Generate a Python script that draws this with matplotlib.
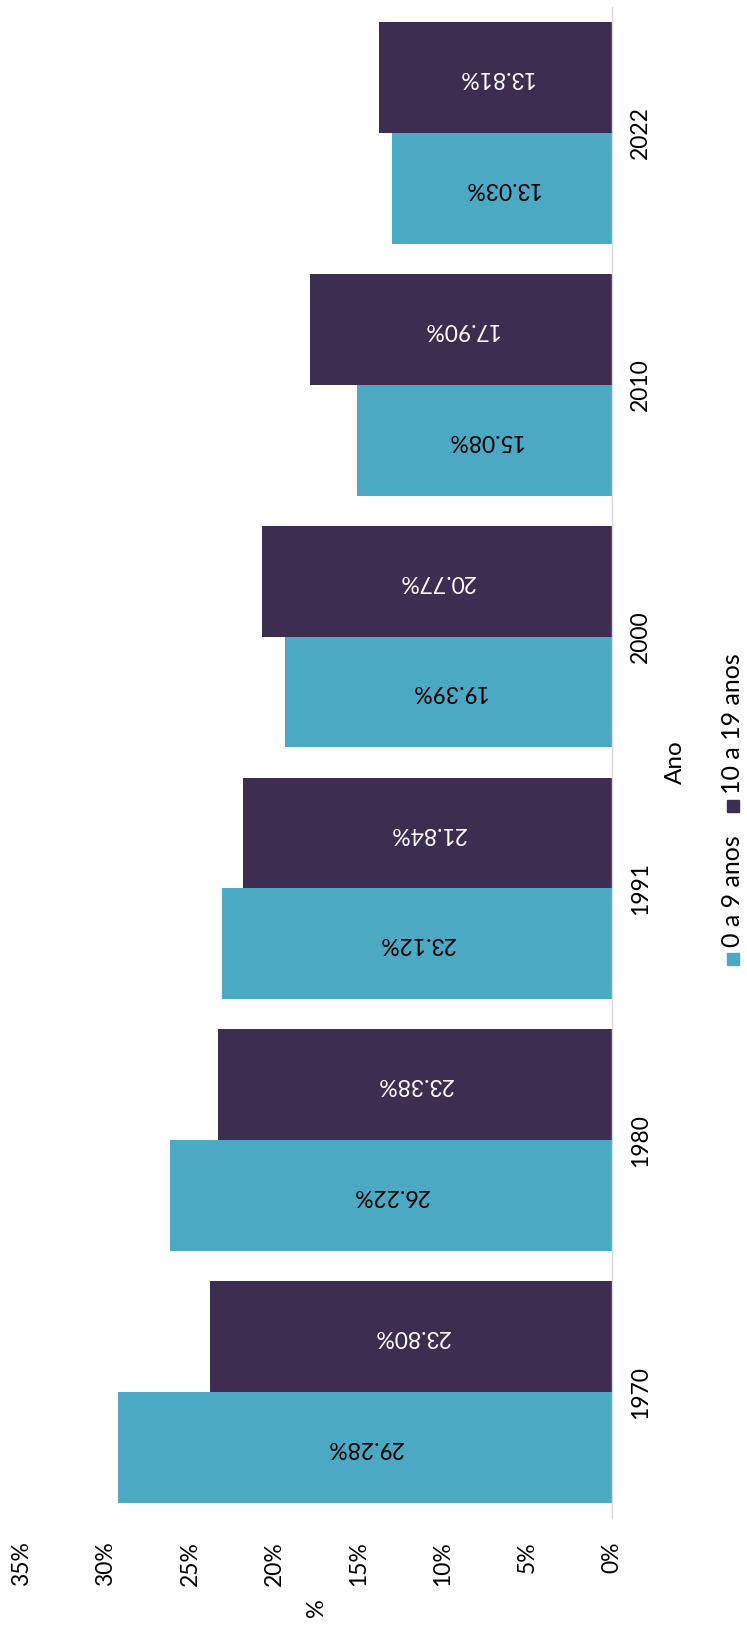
import numpy as np
import matplotlib
matplotlib.use("Agg")
import matplotlib.pyplot as plt
from matplotlib.patches import Rectangle

plt.rcParams['font.family'] = ['Lato', 'DejaVu Sans']

anos = ["1970", "1980", "1991", "2000", "2010", "2022"]
series_names = ["0 a 9 anos", "10 a 19 anos"]
zero_a_nove = [29.28, 26.22, 23.12, 19.39, 15.08, 13.03]
dez_a_dezenove = [23.80, 23.38, 21.84, 20.77, 17.90, 13.81]
pct_ticks = [0, 5, 10, 15, 20, 25, 30, 35]

CYAN = "#4BA9C4"
PURPLE = "#3D2D50"

W, H = 747, 1630


def px(x, y):
    # pixel (from top-left) -> figure fraction
    return x / W, 1 - y / H


def main():
    fig = plt.figure(figsize=(W / 100, H / 100), dpi=100)
    left, top = px(21.6, 7)
    right, bottom = px(611.7, 1518)
    ax = fig.add_axes([left, bottom, right - left, top - bottom])

    y = np.arange(len(anos))
    w = 0.44
    b1 = ax.barh(y - w / 2, zero_a_nove, height=w, color=CYAN)
    b2 = ax.barh(y + w / 2, dez_a_dezenove, height=w, color=PURPLE)

    ax.bar_label(b1, fmt='{:.2f}%', label_type='center', rotation=180,
                 color='black', fontsize=16.5)
    ax.bar_label(b2, fmt='{:.2f}%', label_type='center', rotation=180,
                 color='white', fontsize=16.5)

    ax.set_xlim(35, 0)
    ax.set_ylim(-0.5, len(anos) - 0.5)

    for s in ['left', 'top', 'bottom']:
        ax.spines[s].set_visible(False)
    ax.spines['right'].set_color('#d9d9d9')
    ax.spines['right'].set_linewidth(1)

    ax.set_xticks(pct_ticks)
    ax.set_xticklabels([f"{v}%" for v in pct_ticks], rotation=90, fontsize=16.5)
    ax.tick_params(axis='x', length=0, pad=17)

    ax.set_yticks(y)
    ax.set_yticklabels(anos, rotation=90, fontsize=16.5)
    ax.tick_params(axis='y', length=0, pad=13, labelleft=False, labelright=True)
    for lab in ax.get_yticklabels():
        lab.set_va('center')

    ax.set_xlabel('%', rotation=90, fontsize=17)
    ax.xaxis.set_label_coords(0.5, (1518 - 1608) / 1511)
    ax.xaxis.label.set_va('center')

    ax.yaxis.set_label_position('right')
    ax.set_ylabel('Ano', rotation=90, fontsize=17.5)
    ax.yaxis.set_label_coords((675 - 21.6) / 590.1, 0.5)
    ax.yaxis.label.set_va('center')
    ax.yaxis.label.set_ha('center')

    # legend, drawn rotated like the rest of the chart
    entries = [(series_names[0], CYAN, 965), (series_names[1], PURPLE, 812)]
    for name, color, y0 in entries:
        x0, yb = px(727, y0)
        fig.patches.append(Rectangle((x0, yb), 12 / W, 12 / H, color=color,
                                     transform=fig.transFigure, figure=fig))
        tx, ty = px(733, y0 - 18)
        fig.text(tx, ty, name, rotation=90, ha='center', va='bottom', fontsize=18)

    fig.savefig("out.png", dpi=100, facecolor='white')


if __name__ == "__main__":
    main()
